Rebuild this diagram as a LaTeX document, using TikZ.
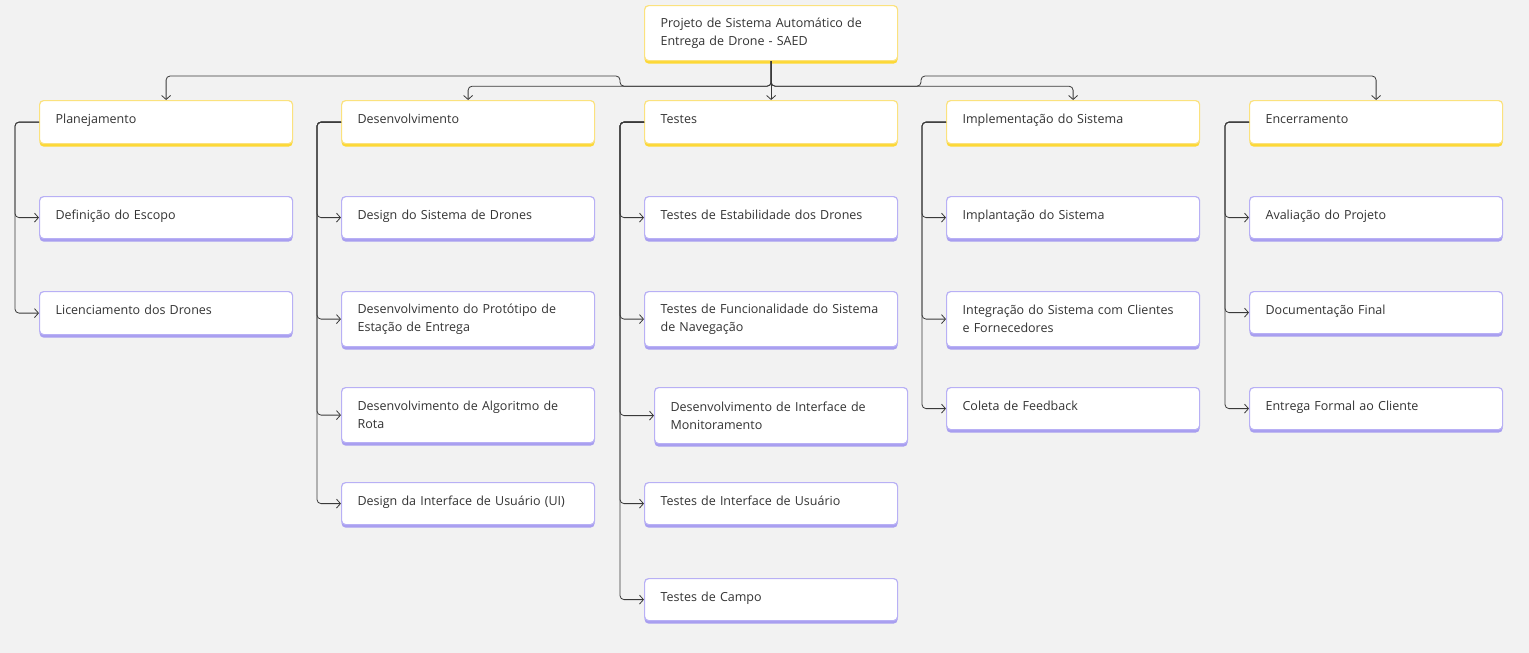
\documentclass[tikz,border=0pt]{standalone}
\usepackage{fontspec}
\setmainfont{Open Sans}
\usetikzlibrary{arrows.meta,shadows,calc}
\definecolor{bgc}{HTML}{F2F2F2}
\definecolor{ylw}{HTML}{FBE27E}
\definecolor{ylwd}{HTML}{FDD835}
\definecolor{prp}{HTML}{B8B0F5}
\definecolor{prpd}{HTML}{A89EF0}
\definecolor{txt}{HTML}{333333}
\definecolor{lnc}{HTML}{3A3A3A}
\newcommand\upt[1]{\raisebox{2pt}[\height][\depth]{\strut#1}}
\tikzset{
  basebox/.style={anchor=north west, fill=white, line width=1.2pt, rounded corners=4pt,
    minimum width=253pt, text width=221pt, inner xsep=16pt, inner ysep=0pt, align=left,
    font=\fontsize{12.5}{18}\selectfont, text=txt},
  hdr/.style={basebox, draw=ylw, general shadow={shadow yshift=-3pt, fill=ylwd, draw=none}},
  itm/.style={basebox, draw=prp, general shadow={shadow yshift=-3pt, fill=prpd, draw=none}},
  conn/.style={draw=lnc, line width=0.8pt, rounded corners=4pt, -{Straight Barb[length=4pt,width=9pt]}}
}
\begin{document}
\begin{tikzpicture}[x=1pt,y=-1pt]
\fill[bgc] (0,0) rectangle (1529,653);
\useasboundingbox (0,0) rectangle (1529,653);
% root
\node[hdr, minimum height=55pt] (root) at (644,5) {Projeto de Sistema Automático de\\Entrega de Drone - SAED};
% headers
\node[hdr, minimum height=43pt] (h1) at (39,100) {\upt{Planejamento}};
\node[hdr, minimum height=43pt] (h2) at (341,100) {\upt{Desenvolvimento}};
\node[hdr, minimum height=43pt] (h3) at (644,100) {\upt{Testes}};
\node[hdr, minimum height=43pt] (h4) at (946,100) {\upt{Implementação do Sistema}};
\node[hdr, minimum height=43pt] (h5) at (1249,100) {\upt{Encerramento}};
% column 1
\node[itm, minimum height=42pt] (a1) at (39,196) {\upt{Definição do Escopo}};
\node[itm, minimum height=43pt] (a2) at (39,291) {\upt{Licenciamento dos Drones}};
% column 2
\node[itm, minimum height=42pt] (b1) at (341,196) {\upt{Design do Sistema de Drones}};
\node[itm, minimum height=55pt] (b2) at (341,291) {Desenvolvimento do Protótipo de\\Estação de Entrega};
\node[itm, minimum height=55pt] (b3) at (341,387) {Desenvolvimento de Algoritmo de\\Rota};
\node[itm, minimum height=42pt] (b4) at (341,482) {\upt{Design da Interface de Usuário (UI)}};
% column 3
\node[itm, minimum height=42pt] (c1) at (644,196) {\upt{Testes de Estabilidade dos Drones}};
\node[itm, minimum height=55pt] (c2) at (644,291) {Testes de Funcionalidade do Sistema\\de Navegação};
\node[itm, minimum height=56pt] (c3) at (654,387) {Desenvolvimento de Interface de\\Monitoramento};
\node[itm, minimum height=42pt] (c4) at (644,482) {\upt{Testes de Interface de Usuário}};
\node[itm, minimum height=42pt] (c5) at (644,578) {\upt{Testes de Campo}};
% column 4
\node[itm, minimum height=42pt] (d1) at (946,196) {\upt{Implantação do Sistema}};
\node[itm, minimum height=55pt] (d2) at (946,291) {Integração do Sistema com Clientes\\e Fornecedores};
\node[itm, minimum height=42pt] (d3) at (946,387) {\upt{Coleta de Feedback}};
% column 5
\node[itm, minimum height=42pt] (e1) at (1249,196) {\upt{Avaliação do Projeto}};
\node[itm, minimum height=42pt] (e2) at (1249,291) {\upt{Documentação Final}};
\node[itm, minimum height=42pt] (e3) at (1249,387) {\upt{Entrega Formal ao Cliente}};
% top connectors
\coordinate (jl) at (620,76);
\coordinate (jr) at (921,76);
\draw[conn] (root.south) -- ++(0,25) -| (jl) -| (h1.north);
\draw[conn] (root.south) -- ++(0,25) -| (h2.north);
\draw[conn] (root.south) -- (h3.north);
\draw[conn] (root.south) -- ++(0,25) -| (h4.north);
\draw[conn] (root.south) -- ++(0,25) -| (jr) -| (h5.north);
% branch connectors
\foreach \c in {a1,a2} { \draw[conn] (h1.west) -- ++(-24,0) |- (\c.west); }
\foreach \c in {b1,b2,b3,b4} { \draw[conn] (h2.west) -- ++(-24,0) |- (\c.west); }
\foreach \c in {c1,c2,c3,c4,c5} { \draw[conn] (h3.west) -- ++(-24,0) |- (\c.west); }
\foreach \c in {d1,d2,d3} { \draw[conn] (h4.west) -- ++(-24,0) |- (\c.west); }
\foreach \c in {e1,e2,e3} { \draw[conn] (h5.west) -- ++(-24,0) |- (\c.west); }
\end{tikzpicture}
\end{document}
